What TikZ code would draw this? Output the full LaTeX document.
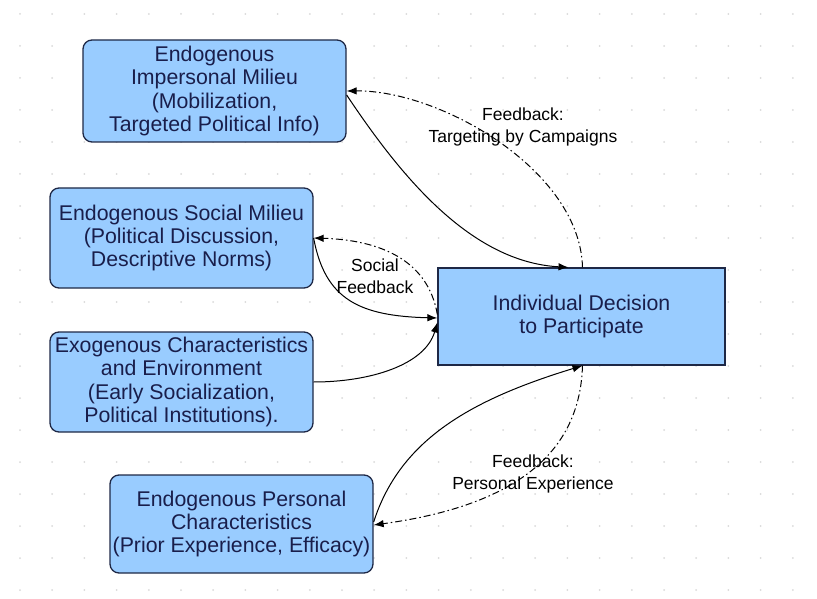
\documentclass[tikz,border=0pt]{standalone}
\usepackage{fontspec}
\setmainfont{Liberation Sans}
\usetikzlibrary{arrows.meta}
\definecolor{boxblue}{RGB}{153,204,255}
\definecolor{boxline}{RGB}{30,40,70}
\definecolor{boxtext}{RGB}{25,30,75}

\begin{document}
\begin{tikzpicture}[x=1pt, y=-1pt, >={Latex[length=10pt,width=7.5pt]},
    milieu/.style={draw=boxline, line width=1.3pt, fill=boxblue, rounded corners=9pt,
        align=center, text=boxtext, font=\fontsize{21.3}{23.3}\selectfont, inner sep=0pt},
    decbox/.style={draw=boxline, line width=1.3pt, fill=boxblue,
        align=center, text=boxtext, font=\fontsize{21.3}{23.3}\selectfont, inner sep=0pt},
    link/.style={->, line width=1pt},
    fb/.style={->, line width=1pt, dash pattern=on 7pt off 3pt on 1.5pt off 3pt},
    lbl/.style={align=center, font=\fontsize{17.5}{22.5}\selectfont}]

        \useasboundingbox (0,0) rectangle (817,599);

        % ==================== 背景点阵 ====================
        \foreach \i in {0,...,24}
            \foreach \j in {0,...,18}
                \fill[gray!30] (20+32.2*\i, 14+32*\j) circle (1pt);

        % ==================== 左侧四个因素框 ====================
        \node[milieu, minimum width=263pt, minimum height=102pt] (Imp) at (214.5,91)
            {Endogenous\\Impersonal Milieu\\(Mobilization,\\Targeted Political Info)};
        \node[milieu, minimum width=263pt, minimum height=100pt] (Soc) at (181.5,238)
            {Endogenous Social Milieu\\(Political Discussion,\\Descriptive Norms)};
        \node[milieu, minimum width=263pt, minimum height=100pt] (Exo) at (181.5,382)
            {Exogenous Characteristics\\and Environment\\(Early Socialization,\\Political Institutions).};
        \node[milieu, minimum width=263pt, minimum height=98pt] (Per) at (241.5,524)
            {Endogenous Personal\\Characteristics\\(Prior Experience, Efficacy)};

        % ==================== 右侧决策框 ====================
        \node[decbox, minimum width=287pt, minimum height=97pt] (Dec) at (581.5,316.5)
            {Individual Decision\\to Participate};

        % ==================== 影响与反馈 ====================
        % 上方：竞选定向
        \draw[link] ([yshift=-4pt]Imp.east) .. controls (400,175) and (470,262) .. ([xshift=-13pt]Dec.north);
        \draw[fb] ([xshift=1pt]Dec.north) .. controls (580,170) and (440,90) .. (Imp.east);
        \node[lbl] (TgtLbl) at (523,127) {Feedback:\\Targeting by Campaigns};

        % 社会反馈
        \draw[link] (Soc.east) .. controls (325,300) and (360,316) .. ([yshift=-1.5pt]Dec.west);
        \draw[fb] ([yshift=2pt]Dec.west) .. controls (428,260) and (380,240) .. (Soc.east);
        \node[lbl] (SocLbl) at (375,276) {Social\\Feedback};

        % 外生因素
        \draw[link] (Exo.east) .. controls (370,382) and (425,365) .. ([yshift=-6pt]Dec.west);

        % 下方：个人经验
        \draw[link] ([yshift=2pt]Per.east) .. controls (400,440) and (470,400) .. ([xshift=1pt]Dec.south);
        \draw[fb] ([xshift=1pt]Dec.south) .. controls (580,450) and (520,505) .. ([yshift=-1pt]Per.east);
        \node[lbl] (PerLbl) at (533,474) {Feedback:\\Personal Experience};

    \end{tikzpicture}
\end{document}
